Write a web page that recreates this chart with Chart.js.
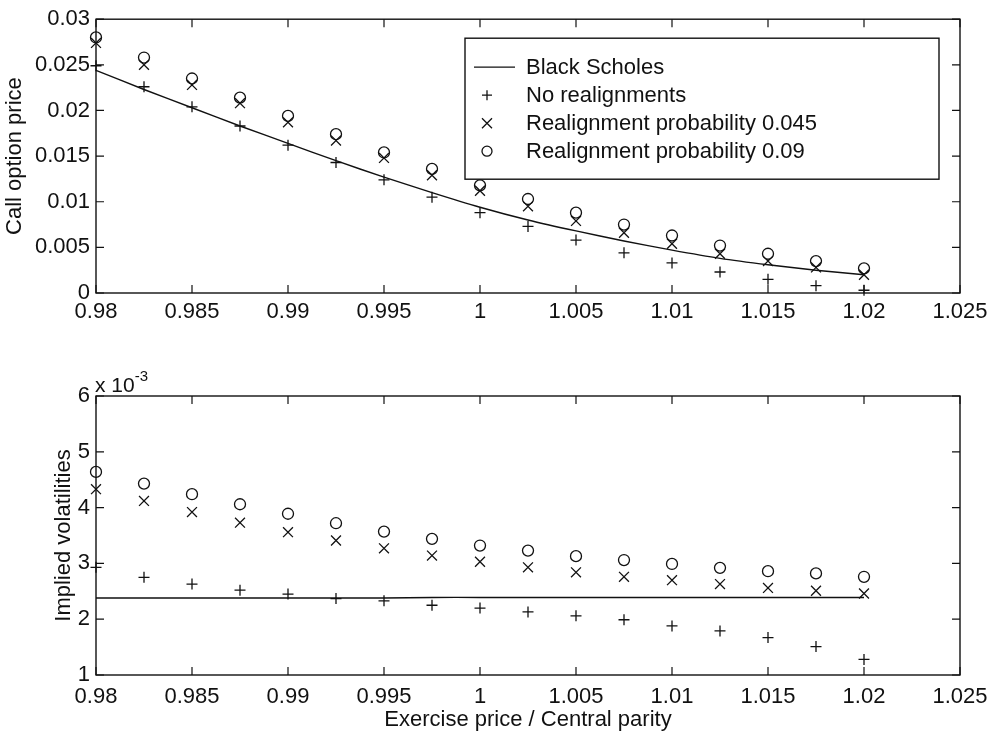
<!DOCTYPE html>
<html>
<head>
<meta charset="utf-8">
<script src="https://cdn.jsdelivr.net/npm/chart.js"></script>
<style>
  body { margin: 0; background: #fff; }
  #wrap { position: relative; width: 1001px; height: 735px; }
  .box { position: absolute; left: 0; width: 1001px; }
  #topBox { top: 0; height: 335px; }
  #botBox { top: 340px; height: 395px; }
  #scale { position: absolute; left: 95px; top: 370px; font: 21px "Liberation Sans", Arial, sans-serif; color: #111; }
  #scale sup { font-size: 15px; position: relative; top: -3px; }
</style>
</head>
<body>
<div id="wrap">
  <div class="box" id="topBox"><canvas id="priceChart" width="1001" height="335"></canvas></div>
  <div class="box" id="botBox"><canvas id="volChart" width="1001" height="395"></canvas></div>
  <div id="scale">x 10<sup>-3</sup></div>
</div>
<script>
// exercise price / central parity
var strikes = [0.98, 0.9825, 0.985, 0.9875, 0.99, 0.9925, 0.995, 0.9975, 1.0,
               1.0025, 1.005, 1.0075, 1.01, 1.0125, 1.015, 1.0175, 1.02];

// call option prices
var priceBS   = [0.0244, 0.0223, 0.0203, 0.0183, 0.0164, 0.0145, 0.0127, 0.0110, 0.0094,
                 0.0080, 0.0068, 0.0057, 0.0047, 0.0038, 0.0031, 0.0025, 0.0020];
var priceNone = [0.0249, 0.0226, 0.0204, 0.0183, 0.0162, 0.0143, 0.0124, 0.0105, 0.0088,
                 0.0073, 0.0058, 0.0044, 0.0033, 0.0023, 0.0015, 0.0008, 0.0003];
var price045  = [0.0274, 0.0250, 0.0228, 0.0208, 0.0187, 0.0167, 0.0148, 0.0129, 0.0112,
                 0.0095, 0.0079, 0.0066, 0.0054, 0.0043, 0.0035, 0.0028, 0.0020];
var price09   = [0.0280, 0.0258, 0.0235, 0.0214, 0.0194, 0.0174, 0.0154, 0.0136, 0.0118,
                 0.0103, 0.0088, 0.0075, 0.0063, 0.0052, 0.0043, 0.0035, 0.0027];

// implied volatilities (x 10^-3)
var volBS   = [2.38, 2.38, 2.38, 2.38, 2.38, 2.38, 2.38, 2.39, 2.39,
               2.39, 2.39, 2.39, 2.39, 2.39, 2.39, 2.39, 2.39];
var volNone = [2.93, 2.75, 2.63, 2.52, 2.45, 2.37, 2.33, 2.25, 2.20,
               2.13, 2.06, 1.99, 1.88, 1.79, 1.67, 1.51, 1.28];
var vol045  = [4.33, 4.12, 3.92, 3.73, 3.56, 3.41, 3.27, 3.14, 3.03,
               2.93, 2.84, 2.76, 2.70, 2.63, 2.56, 2.51, 2.46];
var vol09   = [4.64, 4.43, 4.24, 4.06, 3.89, 3.72, 3.57, 3.44, 3.32,
               3.23, 3.13, 3.06, 2.99, 2.92, 2.86, 2.82, 2.76];

var seriesNames = ['Black Scholes', 'No realignments',
                   'Realignment probability 0.045', 'Realignment probability 0.09'];

var ink = '#111';
var fontFamily = '"Liberation Sans", Arial, sans-serif';

function pts(ys) {
  var out = [];
  for (let i = 0; i < strikes.length; i++) out.push({x: strikes[i], y: ys[i]});
  return out;
}

function makeSets(bs, none, a, b) {
  return [
    { label: seriesNames[0], data: pts(bs), showLine: true, borderColor: ink, borderWidth: 1.4,
      pointRadius: 0, fill: false, tension: 0.3, clip: false },
    { label: seriesNames[1], data: pts(none), showLine: false, pointStyle: 'cross', clip: false,
      pointRadius: 5.5, pointBorderColor: ink, pointBorderWidth: 1.3 },
    { label: seriesNames[2], data: pts(a), showLine: false, pointStyle: 'crossRot', clip: false,
      pointRadius: 7, pointBorderColor: ink, pointBorderWidth: 1.3 },
    { label: seriesNames[3], data: pts(b), showLine: false, pointStyle: 'circle', clip: false,
      pointRadius: 5.5, pointBorderColor: ink, pointBorderWidth: 1.3, pointBackgroundColor: 'rgba(0,0,0,0)' }
  ];
}

// box + inward ticks on all four sides
var frame = {
  id: 'frame',
  afterDatasetsDraw: function(chart) {
    var ctx = chart.ctx, a = chart.chartArea, len = 8;
    ctx.save();
    ctx.strokeStyle = ink;
    ctx.lineWidth = 1.4;
    ctx.strokeRect(a.left, a.top, a.right - a.left, a.bottom - a.top);
    ctx.lineWidth = 1.2;
    var xs = chart.scales.x, ys = chart.scales.y;
    ctx.beginPath();
    xs.ticks.forEach(function(t, i) {
      var px = xs.getPixelForTick(i);
      ctx.moveTo(px, a.bottom); ctx.lineTo(px, a.bottom - len);
      ctx.moveTo(px, a.top); ctx.lineTo(px, a.top + len);
    });
    ys.ticks.forEach(function(t, i) {
      var py = ys.getPixelForTick(i);
      ctx.moveTo(a.left, py); ctx.lineTo(a.left + len, py);
      ctx.moveTo(a.right, py); ctx.lineTo(a.right - len, py);
    });
    ctx.stroke();
    ctx.restore();
  }
};

// boxed legend inside the top plot
var boxLegend = {
  id: 'boxLegend',
  afterDraw: function(chart) {
    if (!chart.options.plugins.boxLegend) return;
    var ctx = chart.ctx, a = chart.chartArea;
    var left = a.left + 369, top = a.top + 19, w = 474, h = 141, row = 28;
    ctx.save();
    ctx.fillStyle = '#fff';
    ctx.fillRect(left, top, w, h);
    ctx.strokeStyle = ink;
    ctx.lineWidth = 1.4;
    ctx.strokeRect(left, top, w, h);
    ctx.font = '22px ' + fontFamily;
    ctx.textBaseline = 'middle';
    ctx.fillStyle = ink;
    ctx.lineWidth = 1.3;
    chart.data.datasets.forEach(function(ds, i) {
      var cy = top + 29 + i * row, cx = left + 22;
      ctx.beginPath();
      if (i === 0) {
        ctx.moveTo(left + 9, cy); ctx.lineTo(left + 50, cy);
      } else if (i === 1) {
        ctx.moveTo(cx - 5, cy); ctx.lineTo(cx + 5, cy);
        ctx.moveTo(cx, cy - 5); ctx.lineTo(cx, cy + 5);
      } else if (i === 2) {
        ctx.moveTo(cx - 5, cy - 5); ctx.lineTo(cx + 5, cy + 5);
        ctx.moveTo(cx + 5, cy - 5); ctx.lineTo(cx - 5, cy + 5);
      } else {
        ctx.arc(cx, cy, 5, 0, Math.PI * 2);
      }
      ctx.stroke();
      ctx.fillText(ds.label, left + 61, cy + 1);
    });
    ctx.restore();
  }
};

function baseOptions(o) {
  return {
    responsive: false,
    animation: false,
    layout: { padding: { left: 0, right: 41, top: o.padTop, bottom: 0 } },
    plugins: { legend: { display: false }, tooltip: { enabled: false }, boxLegend: o.legend },
    scales: {
      x: {
        type: 'linear', min: 0.98, max: 1.025,
        grid: { display: false, drawTicks: false }, border: { display: false },
        ticks: { stepSize: 0.005, autoSkip: false, maxRotation: 0, padding: o.xPad, color: ink,
                 font: { size: 22, family: fontFamily },
                 callback: function(v) { return String(+v.toFixed(3)); } },
        title: { display: !!o.xTitle, text: o.xTitle || '', color: ink,
                 font: { size: 22, family: fontFamily }, padding: { top: 0, bottom: 2 } },
        afterFit: function(s) { s.height = o.xHeight; }
      },
      y: {
        type: 'linear', min: o.yMin, max: o.yMax,
        grid: { display: false, drawTicks: false }, border: { display: false },
        ticks: { stepSize: o.yStep, padding: 6, color: ink, font: { size: 22, family: fontFamily },
                 callback: function(v) { return String(+v.toFixed(3)); } },
        title: { display: true, text: o.yTitle, color: ink,
                 font: { size: 22, family: fontFamily }, padding: { top: o.yTitlePad, bottom: 0 } },
        afterFit: function(s) { s.width = 96; }
      }
    }
  };
}

new Chart(document.getElementById('priceChart').getContext('2d'), {
  type: 'scatter',
  data: { datasets: makeSets(priceBS, priceNone, price045, price09) },
  options: baseOptions({ padTop: 13, xPad: 6, xHeight: 42, yMin: 0, yMax: 0.03, yStep: 0.005,
                         yTitle: 'Call option price', yTitlePad: 2, legend: true }),
  plugins: [frame, boxLegend]
});

new Chart(document.getElementById('volChart').getContext('2d'), {
  type: 'scatter',
  data: { datasets: makeSets(volBS, volNone, vol045, vol09) },
  options: baseOptions({ padTop: 56, xPad: 9, xHeight: 60, yMin: 1, yMax: 6, yStep: 1,
                         yTitle: 'Implied volatilities', yTitlePad: 51, legend: false,
                         xTitle: 'Exercise price / Central parity' }),
  plugins: [frame]
});
</script>
</body>
</html>
